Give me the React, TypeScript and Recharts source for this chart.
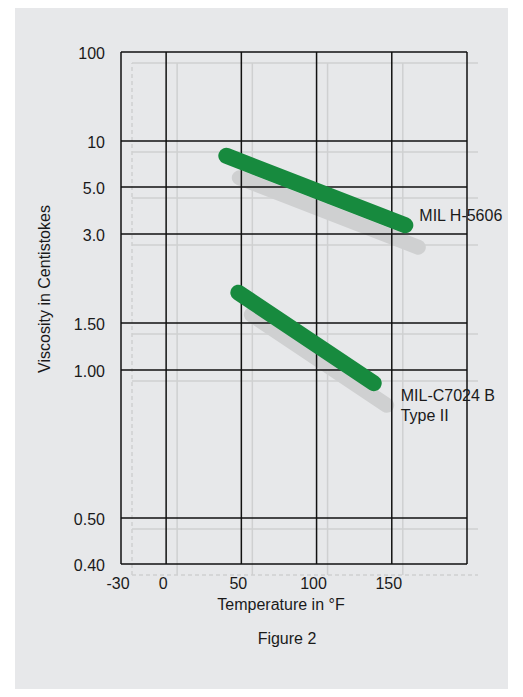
import React from 'react';
import { LineChart, Line, XAxis, YAxis, CartesianGrid, ReferenceLine } from 'recharts';

const W = 523;
const H = 697;

// temperature axis (°F)
const X_DOMAIN = [-30, 200];
const X_TICKS = [-30, 0, 50, 100, 150];

// viscosity axis: the printed chart spaces its ticks unevenly, so each tick gets its depth from the top
const Y_TICKS = [100, 10, 5, 3, 1.5, 1, 0.5, 0.4];
const Y_TICK_LABELS = ['100', '10', '5.0', '3.0', '1.50', '1.00', '0.50', '0.40'];
const Y_STOPS = [0, 89, 135, 182, 271, 318, 466, 512];

// fluids
const H5606_TEMPS = [40, 159];
const H5606_VISC = [8.0, 3.3];
const C7024_TEMPS = [48, 138];
const C7024_VISC = [1.9, 0.94];

const Y_MAX = Y_STOPS[Y_STOPS.length - 1];

// viscosity -> axis units (log interpolation between printed ticks)
const toAxis = (v: number) => {
  for (let i = 0; i < Y_TICKS.length - 1; i++) {
    const a = Y_TICKS[i];
    const b = Y_TICKS[i + 1];
    if (v <= a && v >= b) {
      const f = (Math.log10(a) - Math.log10(v)) / (Math.log10(a) - Math.log10(b));
      return Y_MAX - (Y_STOPS[i] + f * (Y_STOPS[i + 1] - Y_STOPS[i]));
    }
  }
  return v > Y_TICKS[0] ? Y_MAX : 0;
};

const Y_AXIS_TICKS = Y_TICKS.map(toAxis);

const h5606 = H5606_TEMPS.map((temp, i) => ({ temp, pos: toAxis(H5606_VISC[i]) }));
const c7024 = C7024_TEMPS.map((temp, i) => ({ temp, pos: toAxis(C7024_VISC[i]) }));

const FONT = '"Liberation Sans", Arial, Helvetica, sans-serif';
const GREEN = '#178a3e';
const SHADOW = '#cfd0d1';
const BG = '#e7e8ea';
const INK = '#1a1a1a';

const yLabel = (v: number) => {
  const i = Y_AXIS_TICKS.findIndex(t => Math.abs(t - v) < 0.01);
  return i >= 0 ? Y_TICK_LABELS[i] : '';
};

const XTick = ({ x, y, payload }: any) => (
  <text x={x - 3} y={y + 8} textAnchor="middle" fontFamily={FONT} fontSize={16} fill={INK}>
    {payload.value}
  </text>
);

const YTick = ({ x, y, payload }: any) => (
  <text x={x} y={y + 6.5} textAnchor="end" fontFamily={FONT} fontSize={16} fill={INK}>
    {yLabel(payload.value)}
  </text>
);

const h5606Label = ({ x, y, index }: any) => {
  if (index !== H5606_TEMPS.length - 1) return null;
  return (
    <text x={x + 14} y={y - 4} fontFamily={FONT} fontSize={16} fill={INK}>MIL H-5606</text>
  );
};

const c7024Label = ({ x, y, index }: any) => {
  if (index !== C7024_TEMPS.length - 1) return null;
  return (
    <text x={x + 27} y={y + 18} fontFamily={FONT} fontSize={16} fill={INK}>
      <tspan x={x + 27}>MIL-C7024 B</tspan>
      <tspan x={x + 27} dy={20}>Type II</tspan>
    </text>
  );
};

const hiddenAxes = [
  <XAxis key="x" type="number" dataKey="temp" domain={X_DOMAIN} ticks={X_TICKS} hide allowDataOverflow />,
  <YAxis key="y" type="number" domain={[0, Y_MAX]} ticks={Y_AXIS_TICKS} hide allowDataOverflow />,
];

const shadowMargin = { top: 52, right: 56, left: 121, bottom: 133 };

const layer = (dx: number, dy: number): React.CSSProperties => ({ position: 'absolute', left: dx, top: dy });

export default function App() {
  return (
    <div style={{ position: 'absolute', left: 0, top: 0, width: W, height: H, background: '#fff', overflow: 'hidden' }}>
      <div style={{ position: 'absolute', left: 15, top: 8, width: 493, height: 681, background: BG }} />

      {/* offset shadow of the grid */}
      <div style={layer(11, 11)}>
        <LineChart width={W} height={H} margin={shadowMargin}>
          {hiddenAxes}
          {X_TICKS.map(v => (
            <ReferenceLine key={'sx' + v} x={v} stroke={SHADOW} strokeWidth={1.5}
              strokeDasharray={v === X_TICKS[0] ? '4 3' : undefined} />
          ))}
          {Y_AXIS_TICKS.map((v, i) => (
            <ReferenceLine key={'sy' + i} y={v} stroke={SHADOW} strokeWidth={1.5}
              strokeDasharray={i === Y_AXIS_TICKS.length - 1 ? '4 3' : undefined} />
          ))}
        </LineChart>
      </div>

      {/* drop shadow of the curves */}
      <div style={layer(13, 22)}>
        <LineChart width={W} height={H} margin={shadowMargin}>
          {hiddenAxes}
          <Line data={h5606} dataKey="pos" type="linear" stroke={SHADOW} strokeWidth={15}
            strokeLinecap="round" dot={false} isAnimationActive={false} />
          <Line data={c7024} dataKey="pos" type="linear" stroke={SHADOW} strokeWidth={15}
            strokeLinecap="round" dot={false} isAnimationActive={false} />
        </LineChart>
      </div>

      <div style={layer(0, 0)}>
        <LineChart width={W} height={H} margin={{ top: 52, right: 56, left: 0, bottom: 0 }}>
          <CartesianGrid stroke="#111" strokeWidth={1.5} />
          <XAxis type="number" dataKey="temp" domain={X_DOMAIN} ticks={X_TICKS} height={133}
            axisLine={false} tickLine={false} tickMargin={11} tick={<XTick />} allowDataOverflow />
          <YAxis type="number" domain={[0, Y_MAX]} ticks={Y_AXIS_TICKS} width={121}
            axisLine={false} tickLine={false} tickMargin={10} tick={<YTick />} allowDataOverflow />
          <Line data={h5606} dataKey="pos" type="linear" stroke={GREEN} strokeWidth={16}
            strokeLinecap="round" dot={false} isAnimationActive={false} label={h5606Label} />
          <Line data={c7024} dataKey="pos" type="linear" stroke={GREEN} strokeWidth={16}
            strokeLinecap="round" dot={false} isAnimationActive={false} label={c7024Label} />
        </LineChart>
      </div>

      <svg width={W} height={H} style={{ position: 'absolute', left: 0, top: 0, pointerEvents: 'none' }}>
        <text x={281} y={610} textAnchor="middle" fontFamily={FONT} fontSize={16} fill={INK}>
          Temperature in °F
        </text>
        <text x={287} y={644} textAnchor="middle" fontFamily={FONT} fontSize={16} fill={INK}>
          Figure 2
        </text>
        <text transform="translate(44,289) rotate(-90)" dy={5.7} textAnchor="middle" fontFamily={FONT}
          fontSize={16} fill={INK}>
          Viscosity in Centistokes
        </text>
      </svg>
    </div>
  );
}
